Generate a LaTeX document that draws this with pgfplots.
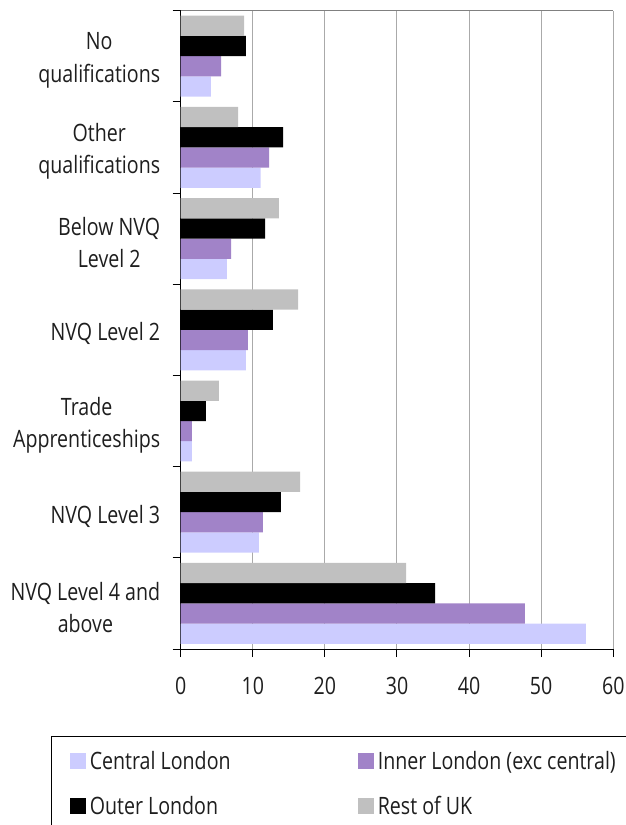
\documentclass[border=0pt]{standalone}
\usepackage{pgfplots}
\pgfplotsset{compat=1.18}
\usepackage{fontspec}
\setmainfont{Open Sans}[FakeStretch=0.82]
\definecolor{central}{RGB}{204,204,255}
\definecolor{inner}{RGB}{161,131,200}
\definecolor{rest}{RGB}{192,192,192}
\definecolor{gridc}{RGB}{170,170,170}
\definecolor{topc}{RGB}{128,128,128}
\definecolor{txt}{RGB}{30,30,30}
\newcommand{\lfont}{\fontsize{24}{32.5}\selectfont}
\begin{document}
\begin{tikzpicture}
\begin{axis}[
  at={(180.7bp,176bp)}, anchor=south west,
  scale only axis, width=432.6bp, height=638.4bp,
  xmin=0, xmax=60, ymin=-0.5, ymax=6.5,
  axis x line*=bottom, axis y line*=left,
  axis line style={-, black, line width=1bp},
  xtick={0,10,...,60}, minor xtick={0,10,...,60},
  ytick={0,...,6}, minor ytick={-0.5,0.5,...,6.5},
  yticklabels={{NVQ Level 4 and\\above},{NVQ Level 3},{Trade\\Apprenticeships},{NVQ Level 2},{Below NVQ\\Level 2},{Other\\qualifications},{No\\qualifications}},
  major tick length=0pt, minor tick length=8bp,
  tick align=outside,
  tick style={black, line width=1bp},
  xmajorgrids=true,
  major grid style={gridc, line width=1bp},
  /pgf/number format/assume math mode=true,
  ticklabel style={font=\lfont, text=txt},
  yticklabel style={align=center, xshift=-17bp, yshift=-4bp},
  xticklabel style={yshift=-25bp},
  xbar, bar width=0.222,
  legend columns=2,
  legend image code/.code={\fill[#1] (0bp,0bp) rectangle (16bp,16bp);},
  legend style={
    at={(-0.29866,-0.13628)}, anchor=north west,
    draw=black, line width=1bp,
    inner xsep=17.8bp, inner ysep=15bp,
    font=\lfont, text=txt,
    cells={anchor=base west},
    nodes={inner sep=0pt, text height=18bp, text depth=6bp},
    /tikz/every odd column/.style={column sep=4bp},
    /tikz/row sep=21bp,
  },
]
\addplot[fill=central, draw=none, bar shift=-0.333] coordinates {
  (56.2,0) (10.85,1) (1.55,2) (9.05,3) (6.4,4) (11.1,5) (4.2,6)};
\addlegendentry{\makebox[268bp][l]{Central London}}
\addplot[fill=inner, draw=none, bar shift=-0.111] coordinates {
  (47.75,0) (11.4,1) (1.55,2) (9.3,3) (7.0,4) (12.25,5) (5.6,6)};
\addlegendentry{\makebox[300bp][l]{Inner London (exc central)}}
\addplot[fill=black, draw=none, bar shift=0.111] coordinates {
  (35.3,0) (13.9,1) (3.5,2) (12.8,3) (11.7,4) (14.2,5) (9.05,6)};
\addlegendentry{\makebox[268bp][l]{Outer London}}
\addplot[fill=rest, draw=none, bar shift=0.333] coordinates {
  (31.25,0) (16.55,1) (5.3,2) (16.3,3) (13.6,4) (7.95,5) (8.8,6)};
\addlegendentry{\makebox[300bp][l]{Rest of UK}}
\draw[topc, line width=1bp] (rel axis cs:0,1) -- (rel axis cs:1,1);
\end{axis}
\pgfresetboundingbox
\useasboundingbox (0,0) rectangle (626bp,825bp);
\end{tikzpicture}
\end{document}
